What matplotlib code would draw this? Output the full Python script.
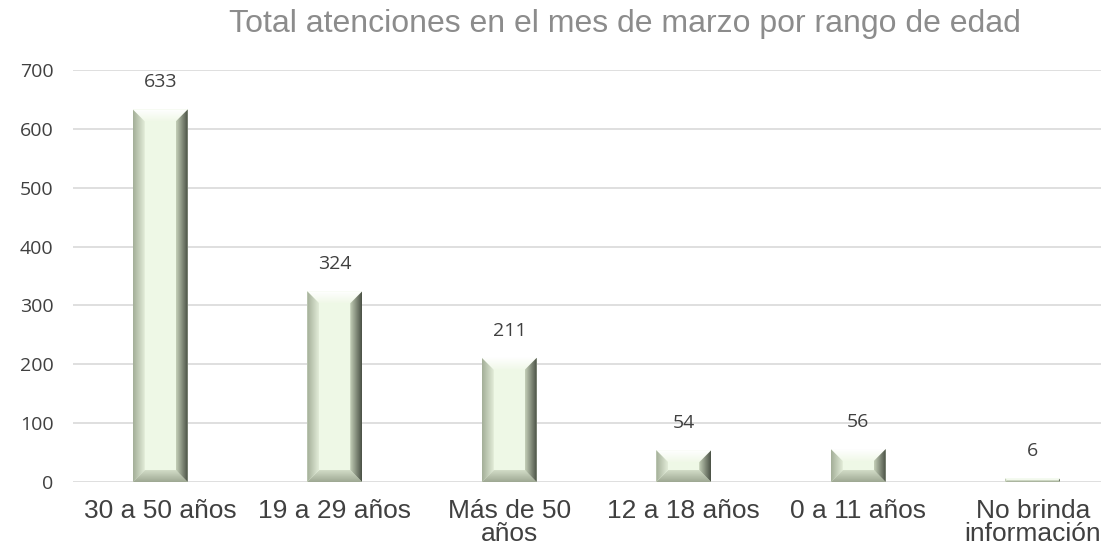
import numpy as np
import matplotlib.pyplot as plt
from matplotlib.patches import Polygon
from matplotlib.colors import LinearSegmentedColormap

categorias = ['30 a 50 años', '19 a 29 años', 'Más de 50\naños', '12 a 18 años', '0 a 11 años', 'No brinda\ninformación']
valores = [633, 324, 211, 54, 56, 6]

fig = plt.figure(figsize=(11.01, 5.58), dpi=100)
ax = fig.add_axes([73 / 1101, 76 / 558, 1 - 73 / 1101, 412 / 558])

x = np.arange(len(categorias))
barras = ax.bar(x, valores, width=0.315, color='#EEF8E6', edgecolor='none', zorder=2)

ax.set_ylim(0, 700)
ax.set_yticks(range(0, 701, 100))
ax.grid(axis='y', color='#D9D9D9', linewidth=1.2, zorder=0)
for s in ax.spines.values():
    s.set_visible(False)
ax.tick_params(axis='y', length=0, pad=14, labelsize=14, labelcolor='#404040')
ax.tick_params(axis='x', length=0, pad=12)
for lbl in ax.get_yticklabels():
    lbl.set_family('Open Sans')
ax.set_xticks(x)
ax.set_xticklabels(categorias, fontsize=19, color='#404040', family='Liberation Sans', linespacing=0.95)

# biselado de las barras
bx = 12 / 174.5
by = 12 * 700 / 412
grad = np.linspace(0, 1, 64).reshape(1, -1)
gradv = np.linspace(0, 1, 64).reshape(-1, 1)
cm_izq = LinearSegmentedColormap.from_list('izq', ['#A3AE98', '#E2ECD8'])
cm_der = LinearSegmentedColormap.from_list('der', ['#C4CFB8', '#4A5145'])
cm_arr = LinearSegmentedColormap.from_list('arr', ['#F0F8E8', '#FFFFFF'])
cm_aba = LinearSegmentedColormap.from_list('aba', ['#9EA893', '#D2DCC7'])
for b in barras:
    x0, y0 = b.get_x(), b.get_y()
    w, h = b.get_width(), b.get_height()
    x1, y1 = x0 + w, y0 + h
    d = min(by, h / 2)
    dx = bx * d / by
    caras = [
        ([(x0, y1), (x1, y1), (x1 - dx, y1 - d), (x0 + dx, y1 - d)], gradv, cm_arr, (x0, x1, y1 - d, y1)),
        ([(x0, y0), (x1, y0), (x1 - dx, y0 + d), (x0 + dx, y0 + d)], gradv, cm_aba, (x0, x1, y0, y0 + d)),
        ([(x0, y0), (x0, y1), (x0 + dx, y1 - d), (x0 + dx, y0 + d)], grad, cm_izq, (x0, x0 + dx, y0, y1)),
        ([(x1, y0), (x1, y1), (x1 - dx, y1 - d), (x1 - dx, y0 + d)], grad, cm_der, (x1 - dx, x1, y0, y1)),
    ]
    for pts, g, cm, ext in caras:
        p = Polygon(pts, closed=True, facecolor='none', edgecolor='none', zorder=3)
        ax.add_patch(p)
        im = ax.imshow(g, extent=ext, aspect='auto', cmap=cm, origin='lower', zorder=3)
        im.set_clip_path(p)
    ax.text(x0 + w / 2, y1 + 700 * 18 / 412, str(int(h)), ha='center', va='bottom',
            fontsize=14, color='#404040', family='Open Sans')

ax.set_xlim(-0.5, (1101 - 73) / 174.5 - 0.5)
ax.set_ylim(0, 700)

fig.text(625 / 1101, 1 - 24 / 558, 'Total atenciones en el mes de marzo por rango de edad',
         ha='center', va='center', fontsize=23, color='#8C8C8C', family='Liberation Sans')

fig.savefig('out.png', dpi=100)
